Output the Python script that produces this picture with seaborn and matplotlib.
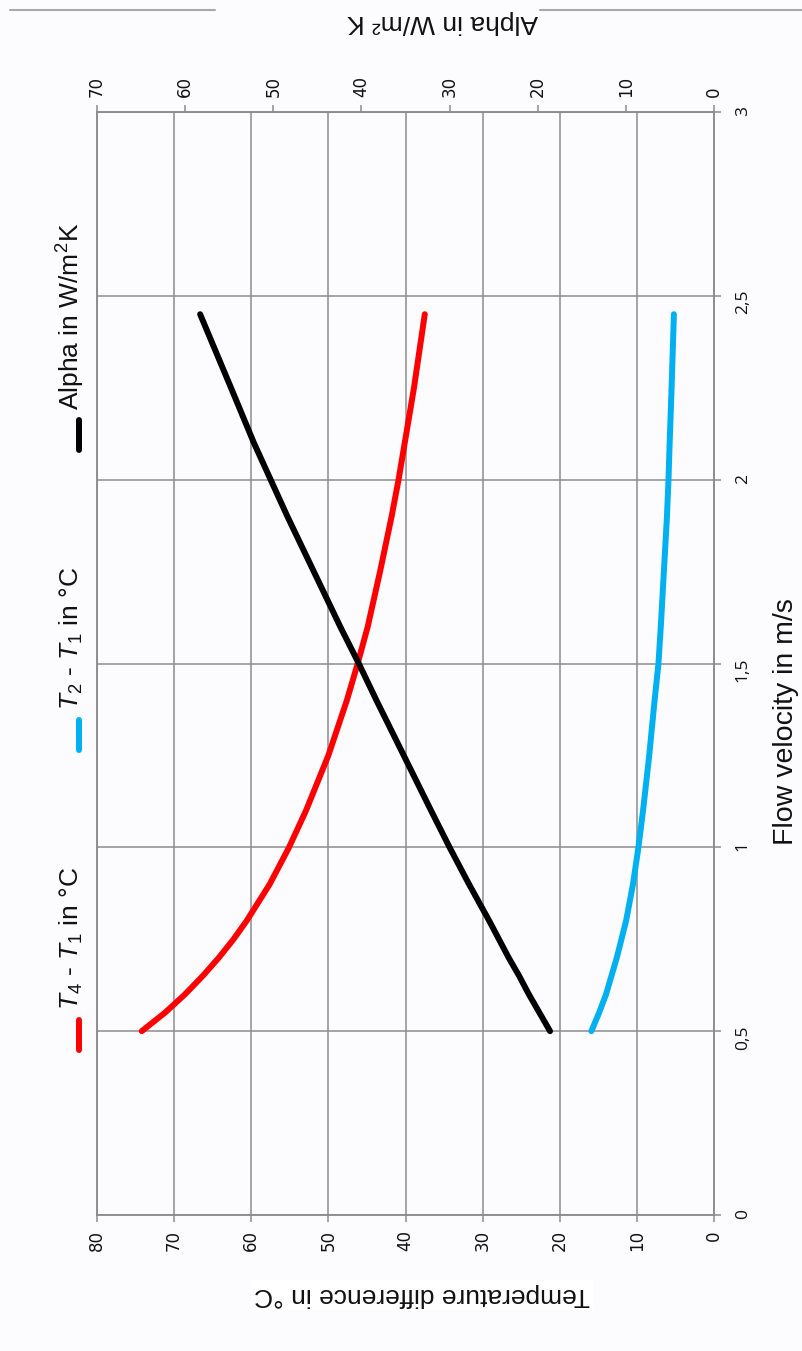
import numpy as np
import pandas as pd
import matplotlib
matplotlib.use("Agg")
import matplotlib.pyplot as plt
from matplotlib.lines import Line2D
import seaborn as sns

# ---- data ----
velocity = [0.5, 0.55, 0.6, 0.65, 0.7, 0.75, 0.8, 0.9, 1.0, 1.1, 1.25, 1.4, 1.5,
            1.6, 1.75, 1.9, 2.0, 2.1, 2.25, 2.45]
t4_t1 = [74.2, 71.2, 68.6, 66.3, 64.2, 62.3, 60.6, 57.6, 55.1, 52.9, 50.0, 47.6, 46.2,
         44.9, 43.3, 41.8, 40.9, 40.1, 38.9, 37.5]
t2_t1 = [15.9, 14.9, 14.0, 13.3, 12.6, 12.0, 11.4, 10.5, 9.8, 9.2, 8.4, 7.7, 7.2,
         6.9, 6.5, 6.1, 5.9, 5.75, 5.5, 5.2]
alpha = [18.6, 19.8, 21.0, 22.1, 23.3, 24.4, 25.5, 27.8, 30.0, 32.1, 35.2, 38.3, 40.3,
         42.4, 45.4, 48.4, 50.3, 52.2, 54.8, 58.3]

temp_ticks = [0, 10, 20, 30, 40, 50, 60, 70, 80]
alpha_ticks = [0, 10, 20, 30, 40, 50, 60, 70]
vel_ticks = [0, 0.5, 1, 1.5, 2, 2.5, 3]
vel_labels = ["0", "0,5", "1", "1,5", "2", "2,5", "3"]

series_names = [r"$T_4$ - $T_1$ in °C", r"$T_2$ - $T_1$ in °C", r"Alpha in W/m$^2$K"]
series_colors = ["#ff0000", "#00b0f0", "#000000"]

df = pd.DataFrame({"v": velocity, "t41": t4_t1, "t21": t2_t1, "alpha": alpha})

sns.set_theme(style="white")
plt.rcParams["font.family"] = ["Liberation Sans", "DejaVu Sans"]
plt.rcParams["mathtext.fontset"] = "custom"
plt.rcParams["mathtext.rm"] = "Liberation Sans"
plt.rcParams["mathtext.it"] = "Liberation Sans:italic"

W, H = 802, 1351
BG = "#fcfcfe"
GRID = "#8c8c8c"
TXT = "#111111"

fig = plt.figure(figsize=(W / 100, H / 100), dpi=100, facecolor=BG)
ax = fig.add_axes([97 / W, 136 / H, 617 / W, 1103 / H])
ax.set_facecolor(BG)

line_kw = dict(lw=4.3, solid_capstyle="round", solid_joinstyle="round")

# temperature curves (x = temperature, y = velocity, chart is turned)
sns.lineplot(data=df, x="t41", y="v", sort=False, ax=ax, color=series_colors[0], **line_kw)
sns.lineplot(data=df, x="t21", y="v", sort=False, ax=ax, color=series_colors[1], **line_kw)
ax.set_xlim(80, 0)
ax.set_ylim(0, 3)
ax.set_xticks(temp_ticks)
ax.set_yticks(vel_ticks)
ax.set_yticklabels(vel_labels, family="Open Sans", fontsize=12.5)
ax.set_xticklabels([str(t) for t in temp_ticks], family="DejaVu Sans", fontsize=12)
ax.grid(True, color=GRID, lw=1.1)
ax.set_axisbelow(True)
ax.set_xlabel("")
ax.set_ylabel("")
ax.yaxis.tick_right()
ax.tick_params(axis="x", bottom=True, direction="out", length=5, width=1.1,
               color=GRID, labelrotation=90, pad=6, labelcolor=TXT)
ax.tick_params(axis="y", right=True, left=False, direction="out", length=5,
               width=1.1, color=GRID, labelrotation=90, pad=10, labelcolor=TXT)
for sp in ax.spines.values():
    sp.set_color(GRID)
    sp.set_linewidth(1.1)

# alpha on the secondary axis (top)
ax2 = ax.twiny()
sns.lineplot(data=df, x="alpha", y="v", sort=False, ax=ax2, color=series_colors[2], **line_kw)
ax2.set_xlim(70, 0)
ax2.set_ylim(0, 3)
ax2.set_xticks(alpha_ticks)
ax2.set_xticklabels([str(a) for a in alpha_ticks], family="DejaVu Sans", fontsize=12)
ax2.set_xlabel("")
ax2.set_ylabel("")
ax2.grid(False)
ax2.tick_params(axis="x", top=True, direction="out", length=5, width=1.1,
                color=GRID, labelrotation=90, pad=6, labelcolor=TXT)
for sp in ax2.spines.values():
    sp.set_color(GRID)
    sp.set_linewidth(1.1)

# axis titles
fig.text(422 / W, 1 - 1295 / H, "Temperature difference in °C", rotation=180,
         ha="center", va="center", fontsize=19, color=TXT,
         bbox=dict(facecolor="white", edgecolor="none", pad=2))
fig.text(786 / W, 1 - 722 / H, "Flow velocity in m/s", rotation=90,
         ha="center", va="center", fontsize=20.5, color=TXT)

# top border fragments around the alpha title
fig.add_artist(Line2D([10 / W, 215 / W], [1 - 10 / H, 1 - 10 / H], color="#a8a8a8", lw=1.5))
fig.add_artist(Line2D([540 / W, 1.0], [1 - 10 / H, 1 - 10 / H], color="#a8a8a8", lw=1.5))
fig.text(443 / W, 1 - 22 / H, "Alpha in W/m² K", rotation=180,
         ha="center", va="center", fontsize=19, color=TXT)

# legend, turned like the rest of the chart
legend_y = [1035, 735, 435]
for name, col, yc in zip(series_names, series_colors, legend_y):
    fig.add_artist(Line2D([79 / W, 79 / W], [1 - (yc + 15) / H, 1 - (yc - 15) / H],
                          color=col, lw=4.3, solid_capstyle="round"))
    fig.text(71 / W, 1 - (yc - 25) / H, name, rotation=90, rotation_mode="anchor",
             ha="left", va="center", fontsize=19, color=TXT)

fig.savefig("out.png", dpi=100, facecolor=BG)
